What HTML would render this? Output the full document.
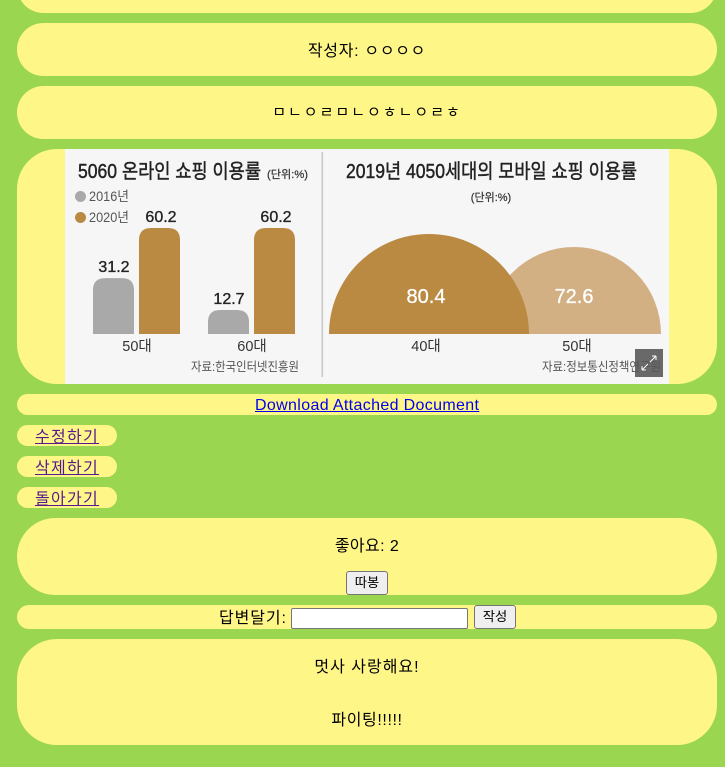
<!DOCTYPE html>
<html lang="ko">
<head>
<meta charset="utf-8">
<title>게시글</title>
<style>
html,body{margin:0;padding:0;width:725px;height:767px;overflow:hidden;background:#9bd651;}
body{position:relative;font-family:"Liberation Sans","Noto Sans CJK KR","NanumGothic",sans-serif;font-size:16px;color:#000;}
.panel{position:absolute;left:17px;width:700px;background:#fff688;border-radius:40px;}
.t{position:absolute;white-space:nowrap;line-height:22px;height:22px;}
.c{left:17px;width:700px;text-align:center;}
a.btn{position:absolute;left:35px;color:#551a8b;line-height:21px;height:21px;white-space:nowrap;letter-spacing:1.3px;}
a.dl{position:absolute;left:255px;top:395px;color:#0000ee;line-height:22px;white-space:nowrap;letter-spacing:.35px;}
input[type=text]{position:absolute;left:291px;top:608px;width:177px;height:21px;box-sizing:border-box;border:1px solid #767676;border-radius:2px;background:#fff;padding:0 2px;margin:0;}
button{position:absolute;box-sizing:border-box;width:42px;height:24px;padding:0;margin:0;background:#efefef;border:1px solid #767676;border-radius:3px;font-family:"Liberation Sans","Noto Sans CJK KR",sans-serif;font-size:13.3px;color:#000;line-height:22px;}
svg{position:absolute;left:65px;top:149px;}
svg text{font-family:"Liberation Sans","Noto Sans CJK KR","NanumGothic",sans-serif;}
#bar-chart text,#dome-chart text{filter:blur(.3px);}
</style>
</head>
<body>
<div class="panel" style="top:-40px;height:53px"></div>

<div class="panel" style="top:23px;height:53px"></div>
<div class="t c" style="top:41px;letter-spacing:.7px">작성자: ㅇㅇㅇㅇ</div>

<div class="panel" style="top:86px;height:53px"></div>
<div class="t c" style="top:102px;font-size:15px;letter-spacing:2px">ㅁㄴㅇㄹㅁㄴㅇㅎㄴㅇㄹㅎ</div>

<div class="panel" style="top:149px;height:235px"></div>

<svg id="chart" width="604" height="235" viewBox="65 149 604 235">
  <rect x="65" y="149" width="604" height="235" fill="#f6f6f6"></rect>
  <rect x="321.5" y="152" width="1.6" height="225" fill="#c9c9c9"></rect>
  <g id="bar-chart">
    <text x="78" y="178" font-size="20" fill="#222" stroke="#222" stroke-width=".45" textLength="183" lengthAdjust="spacingAndGlyphs">5060 온라인 쇼핑 이용률</text>
    <text x="267" y="178" font-size="11" fill="#333" stroke="#333" stroke-width=".2" textLength="41" lengthAdjust="spacingAndGlyphs">(단위:%)</text>
    <circle cx="80.5" cy="196.5" r="5.5" fill="#a9a9a9"></circle>
    <text x="89" y="201" font-size="13.5" fill="#555" textLength="40" lengthAdjust="spacingAndGlyphs">2016년</text>
    <circle cx="80.5" cy="217.5" r="5.5" fill="#ba8a42"></circle>
    <text x="89" y="222" font-size="13.5" fill="#555" textLength="40" lengthAdjust="spacingAndGlyphs">2020년</text>
    <text x="191" y="371" font-size="12.5" fill="#555" textLength="108" lengthAdjust="spacingAndGlyphs">자료:한국인터넷진흥원</text>
  </g>
  <g id="dome-chart">
    <text x="346" y="178" font-size="20" fill="#222" stroke="#222" stroke-width=".45" textLength="291" lengthAdjust="spacingAndGlyphs">2019년 4050세대의 모바일 쇼핑 이용률</text>
    <text x="491" y="201" font-size="11" fill="#333" stroke="#333" stroke-width=".2" text-anchor="middle">(단위:%)</text>
    <text x="542" y="371" font-size="12.5" fill="#555" textLength="119" lengthAdjust="spacingAndGlyphs">자료:정보통신정책연구원</text>
  </g>
  <rect x="635" y="349" width="28" height="28" fill="#555" fill-opacity=".88"></rect>
  <path d="M642 370l6-6M642 370v-4M642 370h4M656 356l-6 6M656 356v4M656 356h-4" stroke="#fff" stroke-width="1" fill="none"></path>
</svg>

<div class="panel" style="top:394px;height:21px;border-radius:11px"></div>
<a class="dl" href="#">Download Attached Document</a>

<div class="panel" style="top:425px;height:21px;width:100px;border-radius:11px"></div>
<a class="btn" href="#" style="top:427px">수정하기</a>
<div class="panel" style="top:456px;height:21px;width:100px;border-radius:11px"></div>
<a class="btn" href="#" style="top:458px">삭제하기</a>
<div class="panel" style="top:487px;height:21px;width:100px;border-radius:11px"></div>
<a class="btn" href="#" style="top:489px">돌아가기</a>

<div class="panel" style="top:518px;height:77px"></div>
<div class="t c" style="top:536px;letter-spacing:.4px">좋아요: 2</div>
<button style="left:346px;top:571px">따봉</button>

<div class="panel" style="top:605px;height:24px;border-radius:12px"></div>
<div class="t" style="left:219px;top:608px;letter-spacing:.9px">답변달기:</div>
<input type="text">
<button style="left:474px;top:605px">작성</button>

<div class="panel" style="top:639px;height:106px"></div>
<div class="t c" style="top:657px;letter-spacing:1px">멋사 사랑해요!</div>
<div class="t c" style="top:710px;letter-spacing:.6px">파이팅!!!!!</div>

<script>
const barCategories = ['50대', '60대'];
const values2016 = [31.2, 12.7];
const values2020 = [60.2, 60.2];
const domeCategories = ['40대', '50대'];
const domeValues = [80.4, 72.6];

const NS = 'http://www.w3.org/2000/svg';
const barGroup = document.getElementById('bar-chart');
const domeGroup = document.getElementById('dome-chart');
const BASE_Y = 334;

function barHeight(v) { return (v + 1.2) * 1.726; }
function groupX(i) { return 93 + i * 115; }
function domeRadius(v) { return (v - 20.4) * (100 / 60); }
function domeCenter(i) { return 429 + i * 145; }

function svgEl(tag, attrs, parent) {
  const el = document.createElementNS(NS, tag);
  for (const k in attrs) el.setAttribute(k, attrs[k]);
  parent.appendChild(el);
  return el;
}

function roundedBar(x, w, h, fill, parent) {
  const r = Math.min(12, h * 0.6);
  const top = BASE_Y - h;
  const d = 'M' + x + ' ' + BASE_Y + 'V' + (top + r) + 'Q' + x + ' ' + top + ' ' + (x + r) + ' ' + top +
    'H' + (x + w - r) + 'Q' + (x + w) + ' ' + top + ' ' + (x + w) + ' ' + (top + r) + 'V' + BASE_Y + 'Z';
  return svgEl('path', { d: d, fill: fill }, parent);
}

function valueLabel(x, y, parent) {
  return svgEl('text', { x: x, y: y, 'font-size': 16, 'font-weight': 500, fill: '#222', 'text-anchor': 'middle', stroke: '#222', 'stroke-width': 0.35 }, parent);
}

barCategories.forEach(function (cat, i) {
  const x0 = groupX(i);
  const w = 41;
  const h16 = barHeight(values2016[i]);
  const h20 = barHeight(values2020[i]);

  const bar16 = roundedBar(x0, w, h16, '#a9a9a9', barGroup);
  
  

  const bar20 = roundedBar(x0 + 46, w, h20, '#ba8a42', barGroup);
  
  

  const lab16 = valueLabel(x0 + 21, BASE_Y - h16 - 6, barGroup);
  lab16.textContent = values2016[i].toFixed(1);
  
  

  const lab20 = valueLabel(x0 + 68, BASE_Y - h20 - 6, barGroup);
  lab20.textContent = values2020[i].toFixed(1);
  
  

  const catLabel = svgEl('text', { x: x0 + 44, y: 351, 'font-size': 14.5, fill: '#333', 'text-anchor': 'middle' }, barGroup);
  catLabel.textContent = cat;
  
  
});

const domeFills = ['#ba8a42', '#d3b083'];
const domeOrder = [1, 0];
domeOrder.forEach(function (i) {
  const r = domeRadius(domeValues[i]);
  const cx = domeCenter(i);
  const dome = svgEl('path', { d: 'M' + (cx - r) + ' ' + BASE_Y + 'A' + r + ' ' + r + ' 0 0 1 ' + (cx + r) + ' ' + BASE_Y + 'Z', fill: domeFills[i] }, domeGroup);
  
  
});

domeCategories.forEach(function (cat, i) {
  const cx = domeCenter(i);
  const val = svgEl('text', { x: i === 0 ? cx - 3 : cx, y: 303, 'font-size': 20, fill: '#fff', stroke: '#fff', 'stroke-width': 0.3, 'text-anchor': 'middle' }, domeGroup);
  val.textContent = domeValues[i].toFixed(1);
  
  

  const catLabel = svgEl('text', { x: i === 0 ? cx - 3 : cx + 3, y: 351, 'font-size': 14.5, fill: '#333', 'text-anchor': 'middle' }, domeGroup);
  catLabel.textContent = cat;
  
  
});
</script>
</body>
</html>
